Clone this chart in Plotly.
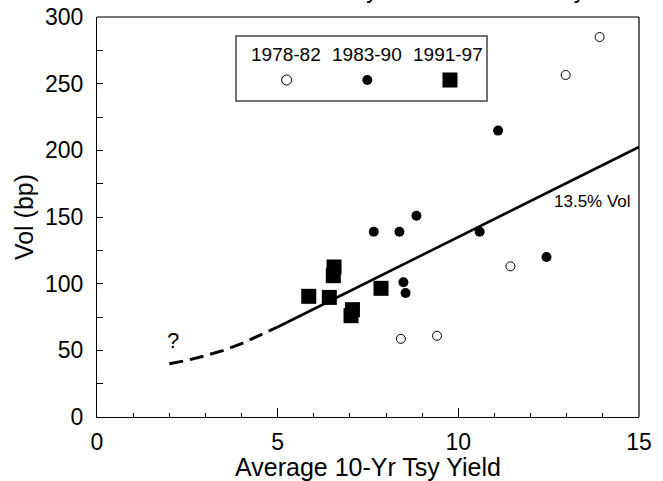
import plotly.graph_objects as go

# ---- data ----
open_x = [8.41, 9.41, 11.44, 12.97, 13.91]          # 1978-82
open_y = [58.6, 60.9, 113.0, 256.5, 285.0]
fill_x = [11.10, 8.84, 7.66, 8.37, 10.59, 12.44, 8.48, 8.54]   # 1983-90
fill_y = [214.8, 151.0, 139.0, 139.0, 139.0, 120.0, 101.0, 93.0]
sq_x = [5.86, 6.43, 6.56, 6.54, 7.86, 7.07, 7.03]    # 1991-97
sq_y = [90.5, 89.7, 112.5, 106.0, 96.5, 80.5, 76.0]

line_x = [5, 15]            # 13.5% vol line
line_y = [67.5, 202.5]
dash_x = [2.0, 2.5, 3.0, 3.5, 4.0, 4.5, 5.0]   # dashed extrapolation
dash_y = [40.0, 42.5, 46.0, 50.0, 55.0, 61.0, 67.5]

legend_labels = ["1978-82", "1983-90", "1991-97"]
x_ticks = [0, 5, 10, 15]
y_ticks = [0, 50, 100, 150, 200, 250, 300]

FONT = "Liberation Sans, Arial, sans-serif"

fig = go.Figure()
fig.add_trace(go.Scatter(x=dash_x, y=dash_y, mode="lines",
                         line=dict(color="black", width=3, dash="14px,7px"),
                         showlegend=False, hoverinfo="skip"))
fig.add_trace(go.Scatter(x=line_x, y=line_y, mode="lines",
                         line=dict(color="black", width=2.6),
                         showlegend=False, hoverinfo="skip"))
fig.add_trace(go.Scatter(x=open_x, y=open_y, mode="markers",
                         marker=dict(symbol="circle-open", size=9, color="black",
                                     line=dict(width=1, color="black")),
                         showlegend=False))
fig.add_trace(go.Scatter(x=fill_x, y=fill_y, mode="markers",
                         marker=dict(symbol="circle", size=10, color="black"),
                         showlegend=False))
fig.add_trace(go.Scatter(x=sq_x, y=sq_y, mode="markers",
                         marker=dict(symbol="square", size=15, color="black"),
                         showlegend=False))

# legend keys on an overlay axis (0..1 paper-like)
key_x = [0.35, 0.4987, 0.6513]
key_y = 0.8425
fig.add_trace(go.Scatter(x=[key_x[0]], y=[key_y], xaxis="x2", yaxis="y2", mode="markers",
                         marker=dict(symbol="circle-open", size=10, color="black",
                                     line=dict(width=1, color="black")), showlegend=False))
fig.add_trace(go.Scatter(x=[key_x[1]], y=[key_y], xaxis="x2", yaxis="y2", mode="markers",
                         marker=dict(symbol="circle", size=10, color="black"), showlegend=False))
fig.add_trace(go.Scatter(x=[key_x[2]], y=[key_y], xaxis="x2", yaxis="y2", mode="markers",
                         marker=dict(symbol="square", size=15, color="black"), showlegend=False))

label_x = [0.349, 0.4987, 0.6476]
annotations = []
for lx, lab in zip(label_x, legend_labels):
    annotations.append(dict(x=lx, y=0.905, xref="paper", yref="paper", text=lab,
                            showarrow=False, font=dict(family=FONT, size=19, color="black"),
                            xanchor="center", yanchor="middle"))
annotations.append(dict(x=13.7, y=161.5, xref="x", yref="y", text="13.5% Vol",
                        showarrow=False, font=dict(family=FONT, size=17, color="black"),
                        xanchor="center", yanchor="middle"))
annotations.append(dict(x=2.09, y=57.7, xref="x", yref="y", text="?",
                        showarrow=False, font=dict(family=FONT, size=22, color="black"),
                        xanchor="center", yanchor="middle"))
annotations.append(dict(x=0.5, y=1.0675, xref="paper", yref="paper",
                        text="Annual Basis Point Volatility of 10-Year Treasury Yield",
                        showarrow=False, font=dict(family=FONT, size=23, color="black"),
                        xanchor="center", yanchor="middle"))

shapes = [
    dict(type="rect", xref="paper", yref="paper", x0=0.2565, x1=0.7196, y0=0.79, y1=0.9525,
         line=dict(color="#444", width=1.5), fillcolor="rgba(0,0,0,0)"),
    dict(type="line", xref="paper", yref="paper", x0=0, x1=1, y0=1, y1=1,
         line=dict(color="#777", width=2)),
    dict(type="line", xref="paper", yref="paper", x0=1, x1=1, y0=0, y1=1,
         line=dict(color="black", width=1.2)),
]

fig.update_layout(
    width=663, height=481,
    margin=dict(l=97, r=24, t=17, b=64, autoexpand=False),
    paper_bgcolor="white", plot_bgcolor="white",
    font=dict(family=FONT, color="black"),
    annotations=annotations, shapes=shapes,
    xaxis=dict(range=[0, 15], tickvals=x_ticks, ticks="inside", ticklen=9, tickwidth=1.3,
               tickcolor="black", showline=True, linecolor="black", linewidth=1.3,
               showgrid=False, zeroline=False, tickfont=dict(size=23), ticklabelstandoff=4,
               automargin=False,
               minor=dict(dtick=1, ticks="inside", ticklen=4, tickwidth=1.2, tickcolor="black"),
               title=dict(text="Average 10-Yr Tsy Yield", font=dict(size=25), standoff=4)),
    yaxis=dict(range=[0, 300], tickvals=y_ticks, ticks="inside", ticklen=6, tickwidth=1.2,
               tickcolor="black", showline=True, linecolor="black", linewidth=1.3,
               showgrid=False, zeroline=False, tickfont=dict(size=23), ticklabelstandoff=8,
               automargin=False,
               minor=dict(dtick=25, ticks="inside", ticklen=6, tickwidth=1.2, tickcolor="black"),
               title=dict(text="Vol (bp)", font=dict(size=25), standoff=4)),
    xaxis2=dict(domain=[0, 1], range=[0, 1], overlaying="x", visible=False),
    yaxis2=dict(domain=[0, 1], range=[0, 1], overlaying="y", anchor="x2", visible=False),
)

fig.write_html("out.html")
